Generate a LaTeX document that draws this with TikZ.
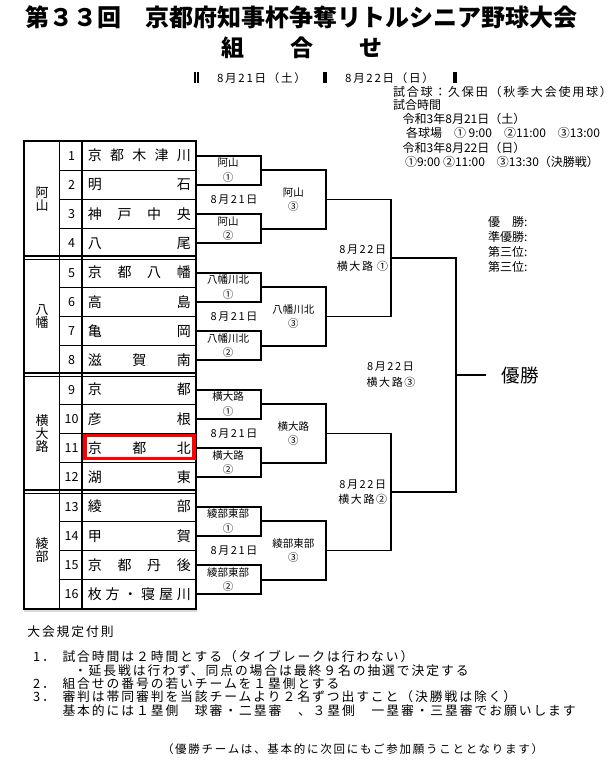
\documentclass[tikz,border=0pt]{standalone}
\usepackage{fontspec}
\setmainfont{Noto Sans CJK JP}
\newfontfamily\wide[LetterSpace=15]{Noto Sans CJK JP}
\usetikzlibrary{positioning,calc}
\newcommand*\fsz[1]{\fontsize{#1}{#1}\selectfont}
\newcommand*\spread[1]{\makebox[103pt][s]{#1}}

\begin{document}
\begin{tikzpicture}[x=1pt,y=-1pt,
		every node/.style={inner sep=0pt,outer sep=0pt},
		tabframe/.style={line width=2.2pt},
		tabline/.style={line width=1.3pt},
		bracket/.style={line width=1.8pt},
		team/.style={font=\fsz{14},minimum width=112.7pt,minimum height=29.25pt},
		num/.style={font=\fsz{12.5}},
		group/.style={font=\fontsize{13}{13}\selectfont,align=center},
		match/.style={font=\fontsize{10.5}{14.5}\selectfont,align=center},
		day/.style={font=\wide\fsz{11}},
		info/.style={font=\fsz{12},anchor=west},
		notes/.style={font=\wide\fsz{12.8},anchor=west}]
		\useasboundingbox (0,0) rectangle (612,765);

		% Draw title
		\node[font=\fsz{24}\bfseries] (title) at (301.5,17.5) {第３３回　京都府知事杯争奪リトルシニア野球大会};
		\node[font=\fsz{23}\bfseries] (sub) at (301.5,48) {組　　合　　せ};

		% Draw day header
		\draw[line width=1.3pt] (195,72.5) -- (195,83.5) (198,72.5) -- (198,83.5);
		\draw[line width=3.2pt] (325,72.5) -- (325,83.5) (455,72.5) -- (455,83.5);
		\node[font=\wide\fsz{11.5}] (day1) at (261.5,78) {8月21日（土）};
		\node[font=\wide\fsz{11.5}] (day2) at (389.5,78) {8月22日（日）};

		% Draw info block
		\node[info,font=\wide\fsz{12}] (ball) at (393,91.7) {試合球：久保田（秋季大会使用球）};
		\node[info] (time) at (393,105) {試合時間};
		\node[info] (sat) at (402.7,119.3) {令和3年8月21日（土）};
		\node[info] (satt) at (406,133.3) {各球場　① 9:00　②11:00　③13:00};
		\node[info] (sun) at (402.7,148.3) {令和3年8月22日（日）};
		\node[info] (sunt) at (405,161.7) {①9:00 ②11:00　③13:30（決勝戦）};
		\foreach \t [count=\i] in {優　勝:, 準優勝:, 第三位:, 第三位:}
			\node[info] (p\i) at (488,{206.7+15*\i}) {\t};

		% Draw table
		\draw[line width=1.5pt,black!15] (23.5,611) -- (197,611);
		\draw[tabframe] (23.7,141) rectangle (195.7,609);
		\draw[tabline] (59.2,141) -- (59.2,609);
		\draw[tabframe] (82,141) -- (82,609);
		\foreach \i in {1,2,3,5,6,7,9,10,11,13,14,15}
			\draw[tabline] (59.2,{141+29.25*\i}) -- (195.7,{141+29.25*\i});
		\foreach \i in {4,8,12} {
			\draw[tabframe] (23.7,{141+29.25*\i-2.3}) -- (195.7,{141+29.25*\i-2.3});
			\draw[line width=1pt] (23.7,{141+29.25*\i+1.4}) -- (195.7,{141+29.25*\i+1.4});
		}
		\foreach \n [count=\i] in {京\hfill 都\hfill 木\hfill 津\hfill 川, 明\hfill 石,
				神\hfill 戸\hfill 中\hfill 央, 八\hfill 尾, 京\hfill 都\hfill 八\hfill 幡,
				高\hfill 島, 亀\hfill 岡, 滋\hfill 賀\hfill 南, 京\hfill 都, 彦\hfill 根,
				京\hfill 都\hfill 北, 湖\hfill 東, 綾\hfill 部, 甲\hfill 賀,
				京\hfill 都\hfill 丹\hfill 後, 枚\hfill 方\hfill ・\hfill 寝\hfill 屋\hfill 川} {
			\node[team] (t\i) at (139.35,{141+29.25*(\i-0.5)}) {\spread{\n}};
			\node[num] (n\i) at (71.5,{141+29.25*(\i-0.5)}) {\i};
		}
		\foreach \g [count=\k] in {阿\\山, 八\\幡, 横\\大\\路, 綾\\部}
			\node[group] (g\k) at (42,{141+29.25*(4*\k-2)}) {\g};
		\draw[red,line width=3.2pt] ($(t11.north west)+(2,1.6)$) rectangle ($(t11.south east)+(-1.7,-4.4)$);

		% Draw first round
		\foreach \a/\b/\lab [count=\k] in {1/2/阿山\\①, 3/4/阿山\\②, 5/6/八幡川北\\①, 7/8/八幡川北\\②,
				9/10/横大路\\①, 11/12/横大路\\②, 13/14/綾部東部\\①, 15/16/綾部東部\\②} {
			\draw[bracket] (t\a.east) -- ++(65,0) |- (t\b.east);
			\node[match] (m\k) at ($(t\a.east)!.5!(t\b.east)+(32.5,0)$) {\lab};
			\coordinate (e\k) at ($(t\a.east)!.5!(t\b.east)+(65,0)$);
		}
		\foreach \k in {1,...,4}
			\node[day] (d\k) at (234,{141+29.25*(4*\k-2)}) {8月21日};

		% Draw second round
		\foreach \a/\b/\lab [count=\k] in {1/2/阿山\\③, 3/4/八幡川北\\③, 5/6/横大路\\③, 7/8/綾部東部\\③} {
			\draw[bracket] (e\a) -- ++(65.3,0) |- (e\b);
			\node[match] (s\k) at ($(e\a)!.5!(e\b)+(32.65,0)$) {\lab};
			\coordinate (q\k) at ($(e\a)!.5!(e\b)+(65.3,0)$);
		}

		% Draw semi final and final
		\draw[bracket] (q1) -- ++(64.7,0) |- (q2);
		\coordinate (j1) at ($(q1)!.5!(q2)+(64.7,0)$);
		\draw[bracket] (q3) -- ++(64.7,0) |- (q4);
		\coordinate (j2) at ($(q3)!.5!(q4)+(64.7,0)$);
		\draw[bracket] (j1) -- ++(65.3,0) |- (j2);
		\coordinate (fin) at ($(j1)!.5!(j2)+(65.3,0)$);
		\draw[bracket] (fin) -- ++(29.7,0) coordinate (fend);
		\node[font=\fsz{18.5},anchor=west,right=16pt of fend] (win) {優勝};
		\node[day,anchor=east] (w1) at ($(j1)+(-4.5,-8)$) {8月22日};
		\node[day,anchor=east] (v1) at ($(j1)+(-2.5,8)$) {横大路 ①};
		\node[day,anchor=east] (w2) at ($(j2)+(-4.5,-7)$) {8月22日};
		\node[day,anchor=east] (v2) at ($(j2)+(-3.5,7)$) {横大路②};
		\node[day] (w3) at ($(fin)+(-65.5,-8)$) {8月22日};
		\node[day] (v3) at ($(fin)+(-65,7)$) {横大路③};

		% Draw rules
		\node[notes] (head) at (27.3,632) {大会規定付則};
		\node[notes] (r1n) at (33,657) {1．};
		\node[notes] (r1) at (62.5,657) {試合時間は２時間とする（タイブレークは行わない）};
		\node[notes] (r1b) at (74,670.5) {・延長戦は行わず、同点の場合は最終９名の抽選で決定する};
		\node[notes] (r2n) at (33,683.5) {2．};
		\node[notes] (r2) at (62.5,683.5) {組合せの番号の若いチームを１塁側とする};
		\node[notes] (r3n) at (33,697) {3．};
		\node[notes] (r3) at (62.5,697) {審判は帯同審判を当該チームより２名ずつ出すこと（決勝戦は除く）};
		\node[notes] (r3b) at (62.5,710.5) {基本的には１塁側　球審・二塁審　、３塁側　一塁審・三塁審でお願いします};
		\node[notes,font=\wide\fsz{11.5}] (thanks) at (162,749) {（優勝チームは、基本的に次回にもご参加願うこととなります）};
	\end{tikzpicture}
\end{document}
